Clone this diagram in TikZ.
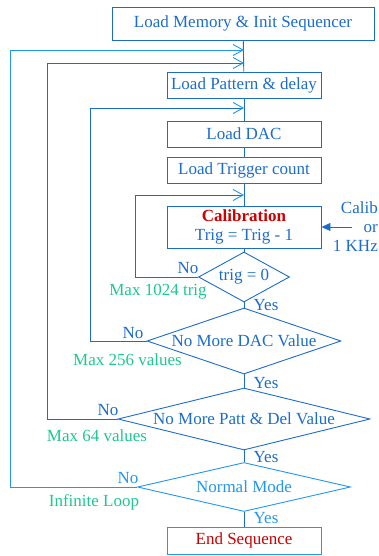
\documentclass[tikz,border=0pt]{standalone}
\usepackage{fontspec}
\setmainfont{Liberation Serif}
\usetikzlibrary{arrows.meta,shapes.geometric}

\definecolor{dblue}{RGB}{28,108,204}
\definecolor{lblue}{RGB}{34,150,240}
\definecolor{mgreen}{RGB}{30,200,140}
\definecolor{mred}{RGB}{205,0,0}

\tikzset{
  flowbox/.style={draw=dblue, line width=0.9pt, rectangle, inner sep=0pt,
    text=dblue, font=\fontsize{17}{19}\selectfont},
  decision/.style={draw=dblue, line width=0.9pt, diamond, inner sep=0pt, aspect=1,
    text=dblue, font=\fontsize{17}{19}\selectfont},
  flow/.style={draw=dblue, line width=0.9pt},
  backloop/.style={flow, -{Straight Barb[length=10pt,width=11pt,color=lblue,line width=0.9pt]}},
  tag/.style={text=dblue, font=\fontsize{17}{19}\selectfont, inner sep=0pt},
  note/.style={text=mgreen, font=\fontsize{17}{19}\selectfont, inner sep=0pt}
}

\begin{document}
\begin{tikzpicture}[x=1pt,y=-1pt]
\useasboundingbox (0,0) rectangle (378,556);

% process boxes
\node[flowbox, minimum width=262pt, minimum height=33pt] (init) at (243,23.5) {Load Memory \& Init Sequencer};
\node[flowbox, minimum width=154pt, minimum height=26pt] (patt) at (244,85) {Load Pattern \& delay};
\node[flowbox, minimum width=154pt, minimum height=26pt] (dac) at (244,134) {Load DAC};
\node[flowbox, minimum width=154pt, minimum height=26pt] (trig) at (244,170) {Load Trigger count};
\node[flowbox, minimum width=154pt, minimum height=42pt, align=center] (calib) at (244,227)
  {\textcolor{mred}{\bfseries Calibration}\\[0pt]Trig = Trig - 1};
\node[flowbox, draw=lblue, minimum width=154pt, minimum height=27pt, text=mred] (end) at (244,540.5) {End Sequence};

% decisions
\node[decision, minimum width=91pt, minimum height=50pt] (d1) at (244,277) {\makebox[0pt]{trig = 0}};
\node[decision, minimum width=194pt, minimum height=66pt] (d2) at (244,341) {\makebox[0pt]{No More DAC Value}};
\node[decision, minimum width=252pt, minimum height=62pt] (d3) at (244,419) {\makebox[0pt]{No More Patt \& Del Value}};
\node[decision, draw=lblue, text=lblue, minimum width=213pt, minimum height=49pt] (d4) at (244,487) {\makebox[0pt]{Normal Mode}};

% main flow
\draw[flow] (init) -- (patt);
\draw[flow] (patt) -- (dac);
\draw[flow] (dac) -- (trig);
\draw[flow] (trig) -- (calib);
\draw[flow] (calib) -- (d1);
\draw[flow] (d1) -- (d2);
\draw[flow] (d2) -- (d3);
\draw[flow] (d3) -- (d4);
\draw[flow] (d4) -- (end);

% loop-back corners
\coordinate (c1) at (135,195);
\coordinate (c2) at (90.5,108);
\coordinate (c3) at (47,63);
\coordinate (c4) at (10.5,50);

\draw[backloop] (d1.west) -| (c1) -- (c1 -| calib.north);
\draw[backloop] (d2.west) -| (c2) -- (c2 -| dac.north);
\draw[backloop] (d3.west) -| (c3) -- (c3 -| patt.north);
\draw[backloop, draw=lblue] (d4.west) -| (c4) -- (c4 -| patt.north);

% external trigger input
\coordinate (src) at (352,227);
\draw[flow, -{Triangle[length=9pt,width=8pt]}] (src) -- (calib.east);
\node[tag, align=right, anchor=east] (calin) at (378,227) {Calib\\[0pt]or\\[0pt]1 KHz};

% branch labels
\node[tag] (no1) at (188,268) {No};
\node[tag] (no2) at (133,333) {No};
\node[tag] (no3) at (108,410) {No};
\node[tag, text=lblue] (no4) at (128,478) {No};
\node[tag] (yes1) at (266,305) {Yes};
\node[tag] (yes2) at (266,383) {Yes};
\node[tag] (yes3) at (266,457) {Yes};
\node[tag, text=lblue] (yes4) at (266,518) {Yes};

% loop limits
\node[note] (lim1) at (158,292) {Max 1024 trig};
\node[note] (lim2) at (127.5,360) {Max 256 values};
\node[note] (lim3) at (97,436) {Max 64 values};
\node[note] (lim4) at (94,502) {Infinite Loop};
\end{tikzpicture}
\end{document}
